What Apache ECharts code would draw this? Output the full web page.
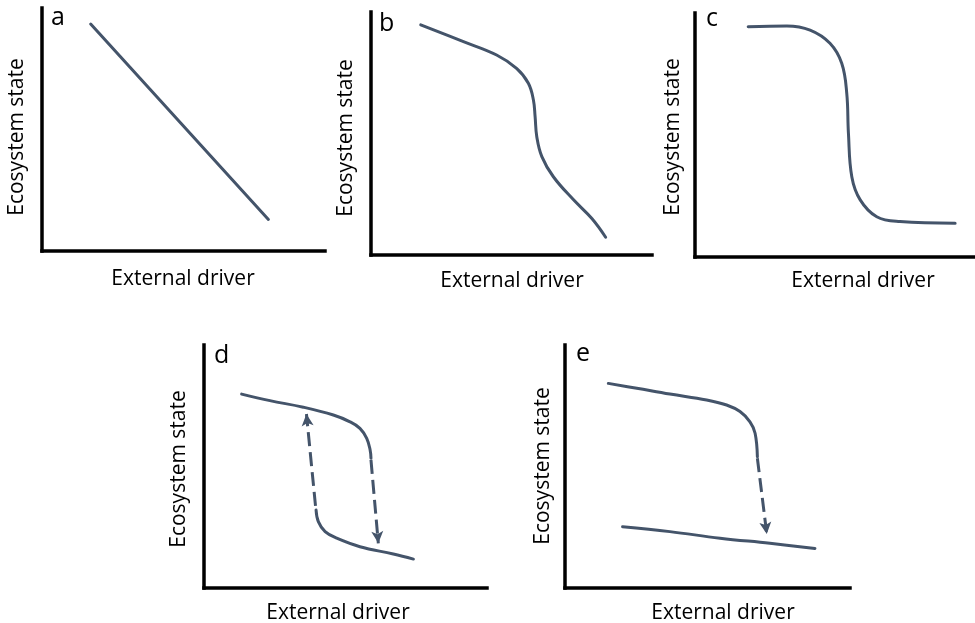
<!DOCTYPE html>
<html>
<head>
<meta charset="utf-8">
<script src="https://cdn.jsdelivr.net/npm/echarts@6/dist/echarts.min.js"></script>
<style>html,body{margin:0;padding:0;background:#fff;}#chart{width:975px;height:623px;}</style>
</head>
<body>
<div id="chart"></div>
<script>
// ---- Data (axes 0-100 in each panel) ----
const panelLetters = ['a', 'b', 'c', 'd', 'e'];
const xAxisTitle = 'External driver';
const yAxisTitle = 'Ecosystem state';

const curveA = [[17.2, 93.4], [80.0, 13.0]];
const curveB = [[17.7, 94.7], [32.9, 87.8], [44.7, 82.3], [51.8, 76.8], [56.0, 70.7], [57.8, 63.8], [58.4, 56.9], [59.0, 48.7], [60.8, 40.5], [64.9, 32.2], [72.0, 22.8], [78.6, 15.0], [83.5, 7.3]];
const curveC = [[19.0, 94.4], [32.8, 94.7], [41.1, 93.0], [48.2, 87.6], [52.4, 79.4], [54.2, 67.1], [54.8, 50.7], [56.0, 32.9], [59.0, 23.4], [64.9, 16.5], [73.2, 14.5], [92.9, 13.8]];
const curveDUpper = [[13.3, 79.8], [23.3, 77.1], [35.1, 74.4], [45.7, 71.2], [51.6, 68.4], [55.1, 65.7], [57.5, 61.6], [58.7, 56.8], [59.0, 53.4]];
const curveDLower = [[39.6, 32.1], [40.4, 27.3], [42.8, 23.2], [46.9, 20.5], [55.1, 17.0], [66.9, 14.0], [74.0, 11.9]];
const arrowDDown = [[59.0, 52.7], [61.6, 18.4]];
const arrowDUp = [[39.4, 33.8], [36.2, 71.6]];
const curveEUpper = [[15.2, 84.2], [25.2, 82.2], [36.8, 79.8], [49.7, 77.4], [56.7, 75.3], [61.4, 72.6], [64.9, 68.4], [66.7, 63.7], [67.5, 54.0]];
const curveELower = [[20.2, 25.2], [36.8, 23.2], [54.4, 20.5], [71.9, 18.4], [87.7, 16.3]];
const arrowEDown = [[67.5, 53.4], [70.8, 22.2]];

// ---- Layout ----
const grids = [
  { left: 42, top: 8, width: 283, height: 243 },
  { left: 371, top: 12, width: 281, height: 243 },
  { left: 695, top: 13, width: 280, height: 244 },
  { left: 204, top: 345, width: 283, height: 243 },
  { left: 565, top: 345, width: 285, height: 243 }
];
const letterPos = [[51, 18], [379, 24], [706, 19], [214, 356], [576, 354]];
const xTitlePos = [[183, 279], [512, 281], [863, 281], [338, 613], [723, 613]];
const yTitlePos = [[17, 137], [346, 138], [673, 137], [179, 469], [543, 466]];

const LINE = '#44546A';
const FONT = '"Open Sans", sans-serif';

function axis(i) {
  return {
    gridIndex: i, type: 'value', min: 0, max: 100,
    axisLine: { show: true, onZero: false, lineStyle: { color: '#000', width: 3.5, cap: 'square' } },
    axisTick: { show: false }, axisLabel: { show: false }, splitLine: { show: false }
  };
}
function curve(i, data, smooth) {
  return {
    type: 'line', xAxisIndex: i, yAxisIndex: i, data: data,
    smooth: smooth, showSymbol: false, symbol: 'none', silent: true,
    lineStyle: { color: LINE, width: 3, cap: 'round' }
  };
}
function arrow(i, pts) {
  return {
    type: 'line', xAxisIndex: i, yAxisIndex: i, data: [], silent: true,
    markLine: {
      silent: true, animation: false,
      symbol: ['none', 'arrow'], symbolSize: [9, 12],
      label: { show: false },
      lineStyle: { color: LINE, width: 3, type: [14, 6] },
      data: [[{ coord: pts[0] }, { coord: pts[1] }]]
    }
  };
}

const graphics = [];
panelLetters.forEach(function (l, i) {
  graphics.push({ type: 'text', x: letterPos[i][0], y: letterPos[i][1],
    style: { text: l, font: '25px ' + FONT, fill: '#000', textAlign: 'left', textVerticalAlign: 'middle' } });
  graphics.push({ type: 'text', x: xTitlePos[i][0], y: xTitlePos[i][1],
    style: { text: xAxisTitle, font: '21px ' + FONT, fill: '#000', textAlign: 'center', textVerticalAlign: 'middle' } });
  graphics.push({ type: 'text', x: yTitlePos[i][0], y: yTitlePos[i][1], rotation: Math.PI / 2,
    style: { text: yAxisTitle, font: '21px ' + FONT, fill: '#000', textAlign: 'center', textVerticalAlign: 'middle' } });
});

const chart = echarts.init(document.getElementById('chart'), null, { renderer: 'canvas' });
chart.setOption({
  animation: false,
  backgroundColor: '#fff',
  grid: grids,
  xAxis: grids.map(function (g, i) { return axis(i); }),
  yAxis: grids.map(function (g, i) { return axis(i); }),
  series: [
    curve(0, curveA, false),
    curve(1, curveB, 0.4),
    curve(2, curveC, 0.4),
    curve(3, curveDUpper, 0.4),
    curve(3, curveDLower, 0.4),
    arrow(3, arrowDDown),
    arrow(3, arrowDUp),
    curve(4, curveEUpper, 0.4),
    curve(4, curveELower, 0.4),
    arrow(4, arrowEDown)
  ],
  graphic: graphics
});
</script>
</body>
</html>
